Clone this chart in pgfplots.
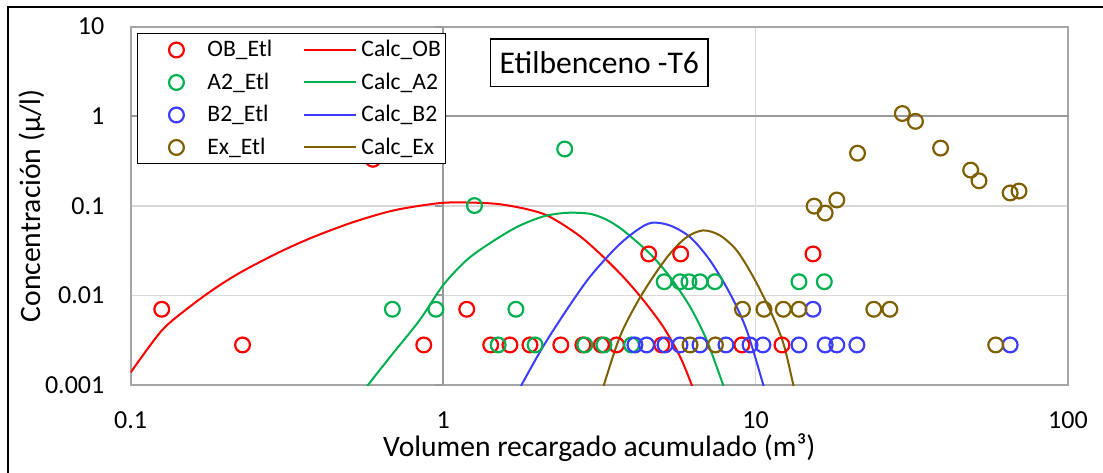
\documentclass[border=0pt]{standalone}
\usepackage{pgfplots}
\pgfplotsset{compat=1.18}
\usepackage{fontspec}
\setmainfont{Carlito}
\definecolor{cRed}{HTML}{FF0000}
\definecolor{cGreen}{HTML}{00B050}
\definecolor{cBlue}{HTML}{3C3CFF}
\definecolor{cBrown}{HTML}{7F6000}
\definecolor{gridc}{HTML}{D9D9D9}
\definecolor{axc}{HTML}{A6A6A6}
\definecolor{axd}{HTML}{999999}
\pgfplotsset{
  scat/.style={only marks, mark=o, mark size=3.7pt, mark options={#1, line width=1.1pt},
    legend image code/.code={\path[draw=none] (0pt,0pt) -- (35pt,0pt); \draw[##1, only marks] plot coordinates {(19.5pt,0pt)};}},
  calc/.style={#1, line width=1pt, no marks, smooth,
    legend image code/.code={\draw[##1] (0pt,0pt) -- (26pt,0pt); \path[draw=none] (28.5pt,0pt);}},
}
\begin{document}
\begin{tikzpicture}
\useasboundingbox (0,0) rectangle (551.5pt,236pt);
\draw[black, line width=0.8pt] (4pt,-5pt) -- (4pt,232.5pt) -- (560pt,232.5pt);
\begin{axis}[
  at={(65.35pt,43.5pt)}, anchor=south west,
  scale only axis, width=468.65pt, height=179.25pt,
  xmode=log, ymode=log,
  xmin=0.1, xmax=100, ymin=0.001, ymax=10,
  xtick={0.1,1,10,100}, xticklabels={0.1,1,10,100},
  ytick={0.001,0.01,0.1,1,10}, yticklabels={0.001,0.01,0.1,1,10},
  minor xtick={}, minor ytick={},
  major tick length=0pt, minor tick length=0pt,
  grid=major, major grid style={gridc, line width=0.75pt},
  axis line style={axc, line width=1pt},
  tick label style={font=\fontsize{13}{15}\selectfont, black},
  xticklabel style={anchor=center, yshift=-17.5pt},
  yticklabel style={anchor=east, inner xsep=0pt, xshift=-13pt},
  xlabel={Volumen recargado acumulado (m³)},
  ylabel={Concentración (µ/l)},
  label style={font=\fontsize{14.8}{17}\selectfont},
  xlabel style={at={(axis description cs:0.5,-0.2008)}, anchor=base},
  ylabel style={at={(axis description cs:-0.1056,0.5)}, anchor=center},
  legend columns=2,
  legend style={at={(0.0064,0.982)}, anchor=north west, draw=black, line width=0.75pt,
    fill=white, inner sep=0pt, row sep=0pt, column sep=0pt,
    font=\fontsize{11.8}{13}\selectfont,
    cells={anchor=west},
    nodes={inner xsep=0pt, inner ysep=0pt, text height=11.5pt, text depth=4.75pt},
    /tikz/column 2/.style={nodes={text width=48pt}},
    /tikz/column 4/.style={nodes={text width=42pt}}},
]
\draw[axd, line width=1pt] (axis cs:1,0.001) -- (axis cs:1,10);
\draw[axd, line width=1pt] (axis cs:0.1,1) -- (axis cs:100,1);
\draw[axd, line width=1pt] (axis cs:1,0.001) -- ++(-4pt,0pt);
\draw[axd, line width=1pt] (axis cs:1,0.01) -- ++(-4pt,0pt);
\draw[axd, line width=1pt] (axis cs:1,0.1) -- ++(-4pt,0pt);
\draw[axd, line width=1pt] (axis cs:1,10) -- ++(-4pt,0pt);

\addplot[scat=cRed] coordinates {
(0.1257,0.007) (0.228,0.0028) (0.596,0.33) (0.867,0.0028) (1.19,0.007) (1.42,0.0028)
(1.636,0.0028) (1.896,0.0028) (2.38,0.0028) (2.80,0.0028) (3.21,0.0028) (3.59,0.0028)
(4.55,0.029) (5.01,0.0028) (5.76,0.029) (9.04,0.0028) (12.15,0.0028) (15.27,0.029)};
\addlegendentry{OB\_Etl}
\addplot[calc=cRed] coordinates {
(0.1,0.00138) (0.1257,0.00405) (0.1545,0.00747) (0.188,0.01227) (0.229,0.01875)
(0.300,0.0305) (0.3835,0.0447) (0.515,0.0656) (0.692,0.0885) (0.929,0.105)
(1.104,0.109) (1.519,0.104) (2.09,0.0813) (2.674,0.0488) (3.176,0.0292)
(3.771,0.0161) (4.37,0.00887) (5.06,0.00448) (5.73,0.00208) (6.24,0.00101) (6.45,0.0007)};
\addlegendentry{Calc\_OB}

\addplot[scat=cGreen] coordinates {
(0.688,0.007) (0.948,0.007) (1.26,0.1005) (1.50,0.0028) (1.71,0.007) (1.97,0.0028)
(2.45,0.43) (2.84,0.0028) (3.27,0.0028) (4.01,0.0028) (5.10,0.0142) (5.73,0.0142)
(6.12,0.0142) (6.64,0.0142) (7.41,0.0142) (13.77,0.0142) (16.6,0.0142)};
\addlegendentry{A2\_Etl}
\addplot[calc=cGreen] coordinates {
(0.52,0.0006) (0.575,0.001) (0.692,0.00227) (0.842,0.00532) (1.0,0.013) (1.188,0.0247)
(1.40,0.0375) (1.718,0.0577) (2.09,0.0759) (2.484,0.0834) (2.950,0.0813)
(3.34,0.0697) (3.771,0.0531) (4.59,0.0292) (5.32,0.0161) (6.17,0.00747)
(6.97,0.00319) (7.88,0.001) (8.2,0.0007)};
\addlegendentry{Calc\_A2}

\addplot[scat=cBlue] coordinates {
(4.11,0.0028) (4.48,0.0028) (5.13,0.0028) (5.73,0.0028) (6.64,0.0028) (8.04,0.0028)
(9.60,0.0028) (10.56,0.0028) (13.77,0.0028) (15.27,0.007) (16.7,0.0028) (18.2,0.0028)
(21.1,0.0028) (65.3,0.0028)};
\addlegendentry{B2\_Etl}
\addplot[calc=cBlue] coordinates {
(1.7,0.0007) (1.782,0.001) (2.09,0.00269) (2.484,0.00687) (2.950,0.0161) (3.592,0.0346)
(4.163,0.0531) (4.65,0.0646) (5.32,0.0603) (6.17,0.0447) (7.14,0.0247)
(8.28,0.0105) (9.36,0.00412) (10.59,0.001) (10.9,0.0007)};
\addlegendentry{Calc\_B2}

\addplot[scat=cBrown] coordinates {
(6.17,0.0028) (7.44,0.0028) (9.08,0.007) (10.64,0.007) (12.27,0.007) (13.77,0.007)
(15.4,0.099) (16.7,0.083) (18.2,0.116) (21.2,0.386) (23.9,0.007) (26.9,0.007)
(29.5,1.07) (32.5,0.875) (39.1,0.44) (48.8,0.25) (51.9,0.19) (58.7,0.0028)
(65.3,0.139) (69.7,0.146)};
\addlegendentry{Ex\_Etl}
\addplot[calc=cBrown] coordinates {
(3.15,0.0006) (3.27,0.001) (3.68,0.00347) (4.163,0.00815) (4.70,0.0161) (5.32,0.0292)
(6.02,0.0447) (6.80,0.0531) (7.69,0.0467) (8.70,0.0318) (9.83,0.0161)
(11.12,0.00687) (12.27,0.00293) (13.21,0.001) (13.5,0.0007)};
\addlegendentry{Calc\_Ex}

\node[draw=black, line width=0.75pt, fill=white, minimum width=108.8pt,
  minimum height=23.85pt, inner sep=0pt, font=\fontsize{15.8}{18}\selectfont]
  at (rel axis cs:0.5,0.8987) {Etilbenceno -T6};
\end{axis}
\end{tikzpicture}
\end{document}
